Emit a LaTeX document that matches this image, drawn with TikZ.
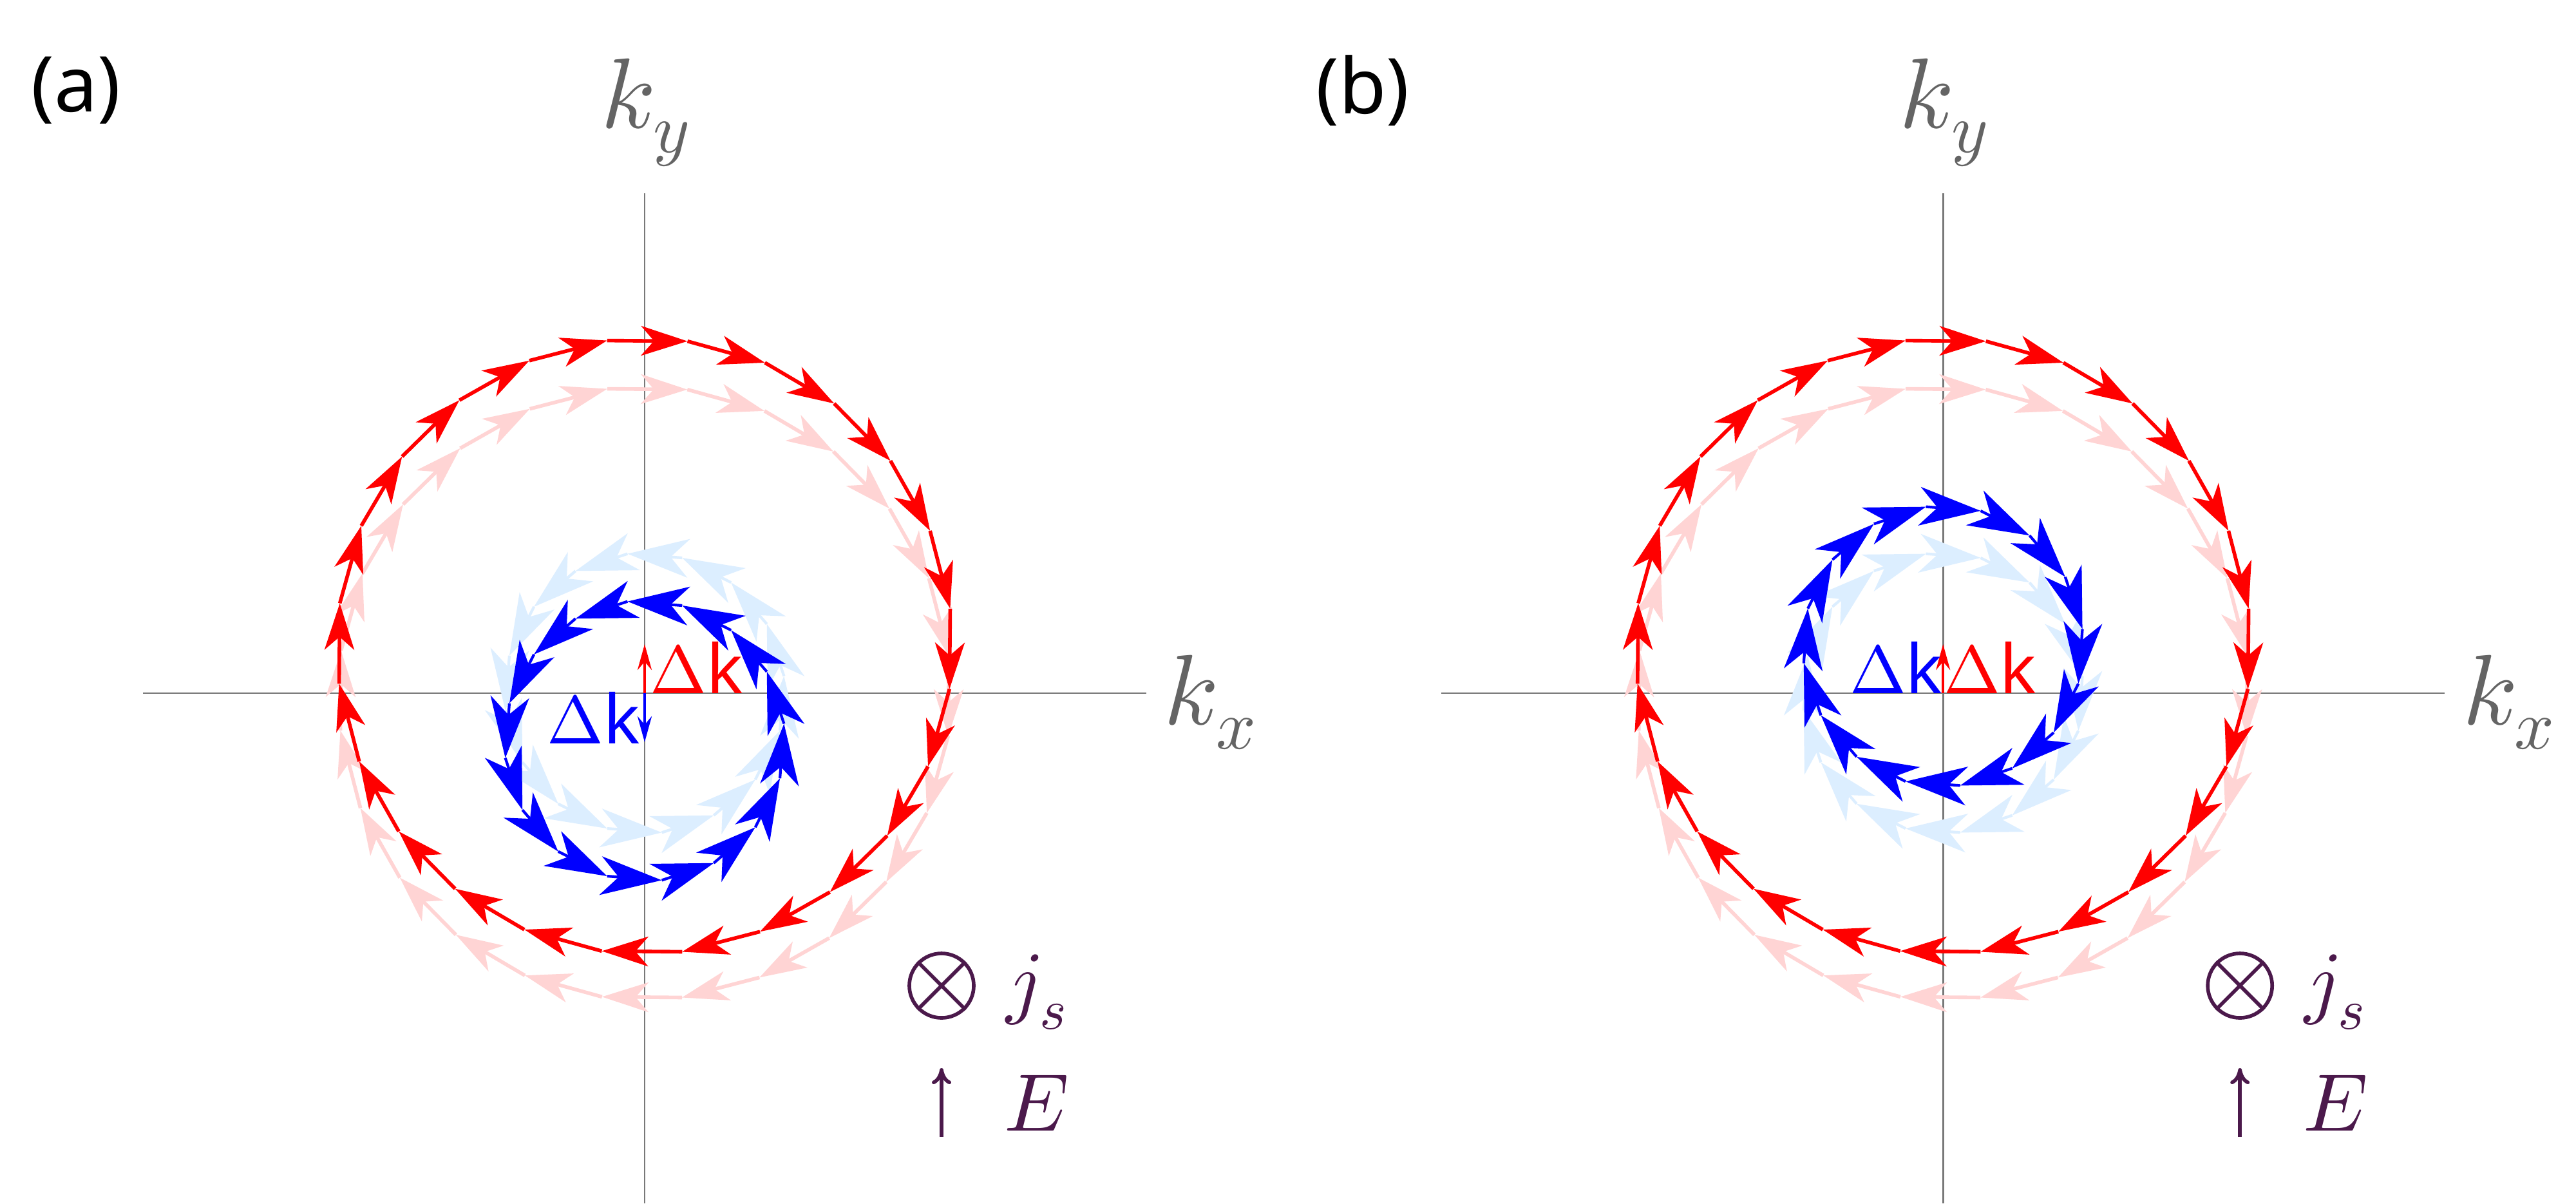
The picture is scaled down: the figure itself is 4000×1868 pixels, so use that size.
\documentclass[tikz,border=0pt]{standalone}
\usepackage{unicode-math}
\setsansfont{Noto Sans}
\setmathfont{Latin Modern Math}
\usetikzlibrary{arrows.meta}
\definecolor{lred}{RGB}{255,212,212}
\definecolor{lblue}{RGB}{220,238,255}
\definecolor{axisgray}{RGB}{120,120,120}
\definecolor{labgray}{RGB}{100,100,100}
\definecolor{legpurple}{RGB}{75,25,75}
\tikzset{
 redarr/.style={line width=1.6pt,-{Stealth[length=0.72cm,width=0.46cm,inset=0.2cm]}},
 bluearr/.style={line width=1.2pt,-{Stealth[length=0.95cm,width=0.6cm,inset=0.28cm]}},
 axisline/.style={axisgray,line width=0.8pt},
 axlab/.style={labgray,font=\fontsize{44}{44}\selectfont},
 dklab/.style={font=\sffamily\fontsize{30}{30}\selectfont,inner sep=0pt},
 panlab/.style={font=\sffamily\fontsize{34}{34}\selectfont},
 leg/.style={legpurple,font=\fontsize{36}{36}\selectfont}
}
\newcommand\myring[6]{%
 \foreach \i in {1,...,#4}{%
  \pgfmathsetmacro\aa{360*\i/#4+7}%
  \pgfmathsetmacro\bb{\aa+#5*360/#4}%
  \draw[#6] ({#1+#3*cos(\aa)},{#2-#3*sin(\aa)}) -- ({#1+#3*cos(\bb)},{#2-#3*sin(\bb)});
 }}
\begin{document}
\begin{tikzpicture}[x=0.01cm,y=-0.01cm]
\useasboundingbox[fill=white] (0,0) rectangle (4000,1868);
% panel (a)
\begin{scope}
\node[panlab] (la) at (118,140) {(a)};
\coordinate (ao) at (1001,1076);
\coordinate (axl) at (222,1076); \coordinate (axr) at (1780,1076);
\coordinate (ayt) at (1001,300); \coordinate (ayb) at (1001,1868);
\draw[axisline] (axl) -- (axr);
\draw[axisline] (ayt) -- (ayb);
\node[axlab] (kya) at (1003,175) {$k_y$};
\node[axlab] (kxa) at (1880,1090) {$k_x$};
\myring{1001}{1076}{476}{24}{-1}{redarr,lred}
\myring{1001}{1003}{478}{24}{-1}{redarr,red}
\myring{1001}{1076}{218}{16}{1}{bluearr,lblue}
\myring{1001}{1150}{218}{16}{1}{bluearr,blue}
\coordinate (ra) at (1001,1000); \coordinate (ba) at (1001,1152);
\draw[red,line width=1.3pt,-{Stealth[length=0.4cm,width=0.22cm]}] (ao) -- (ra);
\draw[blue,line width=1.3pt,-{Stealth[length=0.4cm,width=0.22cm]}] (ao) -- (ba);
\node[dklab,red] (dra) at (1082,1036) {$\Delta$k};
\node[dklab,blue] (dba) at (922,1114) {$\Delta$k};
\node[draw=legpurple,line width=1.6pt,circle,minimum size=1cm,inner sep=0pt] (ota) at (1462,1530) {};
\draw[legpurple,line width=1.6pt] (ota.45) -- (ota.225) (ota.135) -- (ota.315);
\node[leg] (jsa) at (1610,1540) {$j_s$};
\coordinate (ea1) at (1462,1765); \coordinate (ea2) at (1462,1658);
\draw[legpurple,line width=1.6pt,-{To[length=0.25cm,width=0.3cm]}] (ea1) -- (ea2);
\node[leg] (ea) at (1610,1712) {$E$};
\end{scope}
% panel (b)
\begin{scope}[xshift=20.15cm]
\node[panlab] (lb) at (100,140) {(b)};
\coordinate (bo) at (1001,1076);
\coordinate (bxl) at (222,1076); \coordinate (bxr) at (1780,1076);
\coordinate (byt) at (1001,300); \coordinate (byb) at (1001,1868);
\draw[axisline] (bxl) -- (bxr);
\draw[axisline] (byt) -- (byb);
\node[axlab] (kyb) at (1003,175) {$k_y$};
\node[axlab] (kxb) at (1880,1090) {$k_x$};
\myring{1001}{1076}{476}{24}{-1}{redarr,lred}
\myring{1001}{1003}{478}{24}{-1}{redarr,red}
\myring{1001}{1076}{218}{16}{-1}{bluearr,lblue}
\myring{1001}{1003}{218}{16}{-1}{bluearr,blue}
\coordinate (rb) at (1001,1000);
\draw[red,line width=1.3pt,-{Stealth[length=0.4cm,width=0.22cm]}] (bo) -- (rb);
\node[dklab,red] (drb) at (1074,1036) {$\Delta$k};
\node[dklab,blue] (dbb) at (928,1036) {$\Delta$k};
\node[draw=legpurple,line width=1.6pt,circle,minimum size=1cm,inner sep=0pt] (otb) at (1462,1530) {};
\draw[legpurple,line width=1.6pt] (otb.45) -- (otb.225) (otb.135) -- (otb.315);
\node[leg] (jsb) at (1610,1540) {$j_s$};
\coordinate (eb1) at (1462,1765); \coordinate (eb2) at (1462,1658);
\draw[legpurple,line width=1.6pt,-{To[length=0.25cm,width=0.3cm]}] (eb1) -- (eb2);
\node[leg] (eb) at (1610,1712) {$E$};
\end{scope}
\end{tikzpicture}
\end{document}
